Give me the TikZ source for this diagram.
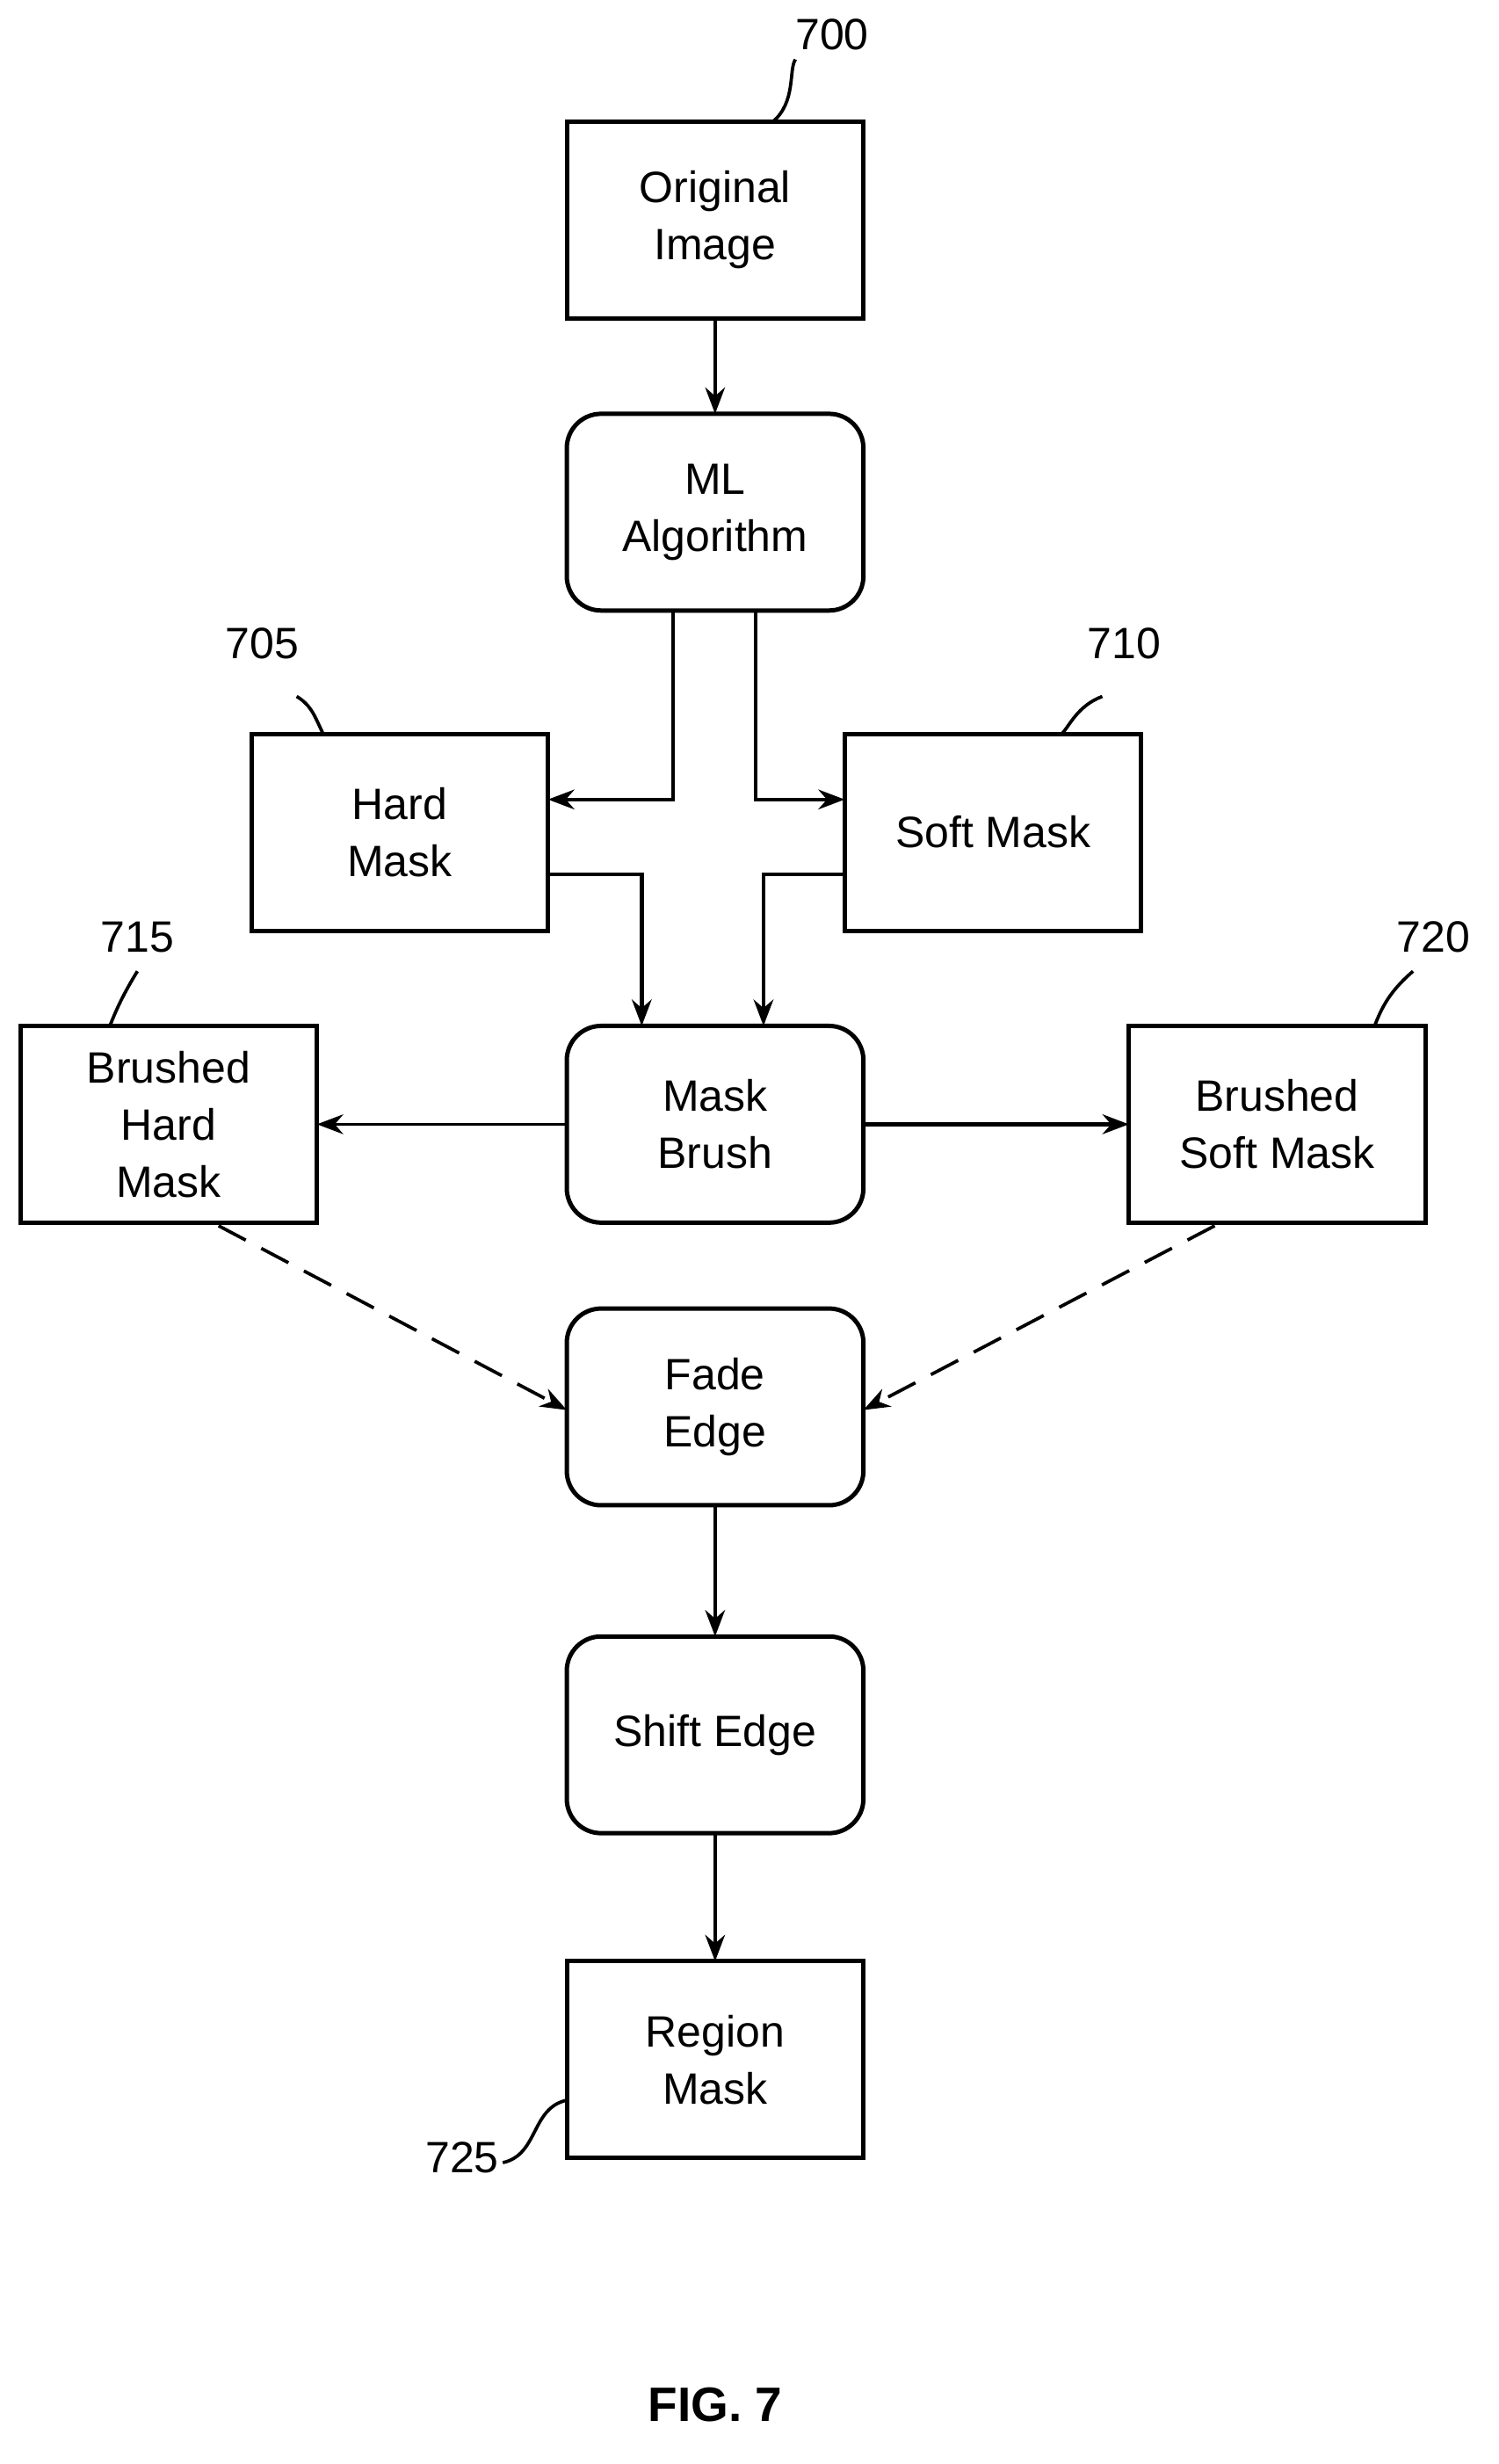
\documentclass[tikz,border=0pt]{standalone}
\usepackage{fontspec}
\setmainfont{Liberation Sans}
\usetikzlibrary{arrows.meta}
\begin{document}
\begin{tikzpicture}[x=0.05cm,y=-0.05cm,
  box/.style={draw,line width=4pt,minimum width=9.5cm,minimum height=6.3cm,inner sep=0pt,outer sep=0pt,align=center,font=\fontsize{40}{52}\selectfont},
  rbox/.style={box,rounded corners=1.1cm},
  arr/.style={line width=3.5pt,-{Stealth[length=24pt,width=18pt]}},
  lbl/.style={font=\fontsize{40}{48}\selectfont,inner sep=0pt},
  lead/.style={line width=3pt}]
\useasboundingbox (0,0) rectangle (960,1578);
\node[box]  (orig) at (458,141) {Original\\Image};
\node[rbox] (ml)   at (458,328) {ML\\Algorithm};
\node[box]  (hard) at (256,533) {Hard\\Mask};
\node[box]  (soft) at (636,533) {Soft Mask};
\node[box]  (bh)   at (108,720) {Brushed\\Hard\\Mask};
\node[rbox] (mb)   at (458,720) {Mask\\Brush};
\node[box]  (bs)   at (818,720) {Brushed\\Soft Mask};
\node[rbox] (fade) at (458,901) {Fade\\Edge};
\node[rbox] (shift) at (458,1111) {Shift Edge};
\node[box]  (reg)  at (458,1319) {Region\\Mask};
\node[font=\bfseries\fontsize{44}{50}\selectfont] (fig) at (458,1540) {FIG. 7};

\draw[arr] (orig) -- (ml);
\draw[arr] ([xshift=-1.35cm]ml.south) |- (hard.east |- 0,512);
\draw[arr] ([xshift=1.3cm]ml.south) |- (soft.west |- 0,512);
\draw[arr] (hard.east |- 0,560) -| ([xshift=-2.35cm]mb.north);
\draw[arr] (soft.west |- 0,560) -| ([xshift=1.55cm]mb.north);
\draw[arr,line width=2.5pt] (mb) -- (bh);
\draw[arr] (mb) -- (bs);
\coordinate (d1) at (140,785);
\coordinate (d2) at (778,785);
\draw[arr,line width=3pt,dash pattern=on 28pt off 16pt] (d1) -- (fade.west |- 0,903);
\draw[arr,line width=3pt,dash pattern=on 28pt off 16pt] (d2) -- (fade.east |- 0,903);
\draw[arr] (fade) -- (shift);
\draw[arr] (shift) -- (reg);

\node[lbl] (l700) at (533,22) {700};
\node[lbl] (l705) at (168,412) {705};
\node[lbl] (l710) at (720,412) {710};
\node[lbl] (l715) at (88,600) {715};
\node[lbl] (l720) at (918,600) {720};
\node[lbl] (l725) at (296,1382) {725};
\draw[lead] (l700.south west) ++(0,6) .. controls (505,45) and (510,65) .. (495,78);
\draw[lead] (190,446) .. controls (200,452) and (202,460) .. (207,470);
\draw[lead] (706,446) .. controls (690,452) and (685,465) .. (680,470);
\draw[lead] (88,622) .. controls (80,635) and (75,645) .. (70,658);
\draw[lead] (905,622) .. controls (890,635) and (885,645) .. (880,658);
\draw[lead] (322,1385) .. controls (345,1380) and (340,1350) .. (363,1345);
\end{tikzpicture}
\end{document}
